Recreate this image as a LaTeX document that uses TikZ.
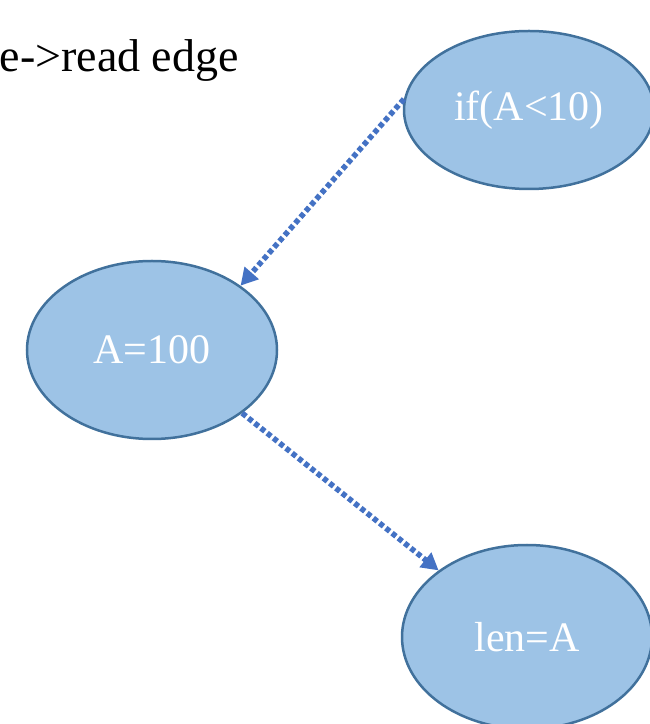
\documentclass[tikz,border=0pt]{standalone}
\usepackage{fontspec}
\setmainfont{Liberation Serif}
\usetikzlibrary{shapes.geometric,arrows.meta}
\definecolor{nodefill}{HTML}{9DC3E6}
\definecolor{nodeline}{HTML}{41719C}
\definecolor{arrowblue}{HTML}{4472C4}
\begin{document}
\begin{tikzpicture}[x=1pt,y=1pt,
  stmt/.style={ellipse, draw=nodeline, fill=nodefill, line width=2.5pt,
    minimum width=250pt, minimum height=178pt, inner sep=0pt,
    text=white, font=\fontsize{42}{42}\selectfont},
  flow/.style={draw=arrowblue, line width=5.5pt, dash pattern=on 5pt off 3pt,
    -{Triangle[length=17pt,width=18pt]}}]
\useasboundingbox (0,0) rectangle (649,724);
\node[anchor=base east, inner sep=0pt, font=\fontsize{46}{46}\selectfont] (title) at (239,724-72) {e->read edge};
\node[stmt, minimum height=158pt] (cond) at (529,724-110) {if(A<10)};
\node[stmt] (assign) at (152,724-350) {A=100};
\node[stmt, minimum height=184pt] (use) at (527,724-637) {len=A};
\draw[flow] (cond.175) -- (assign.36);
\draw[flow] (assign.-35) -- (use.143);
\end{tikzpicture}
\end{document}
